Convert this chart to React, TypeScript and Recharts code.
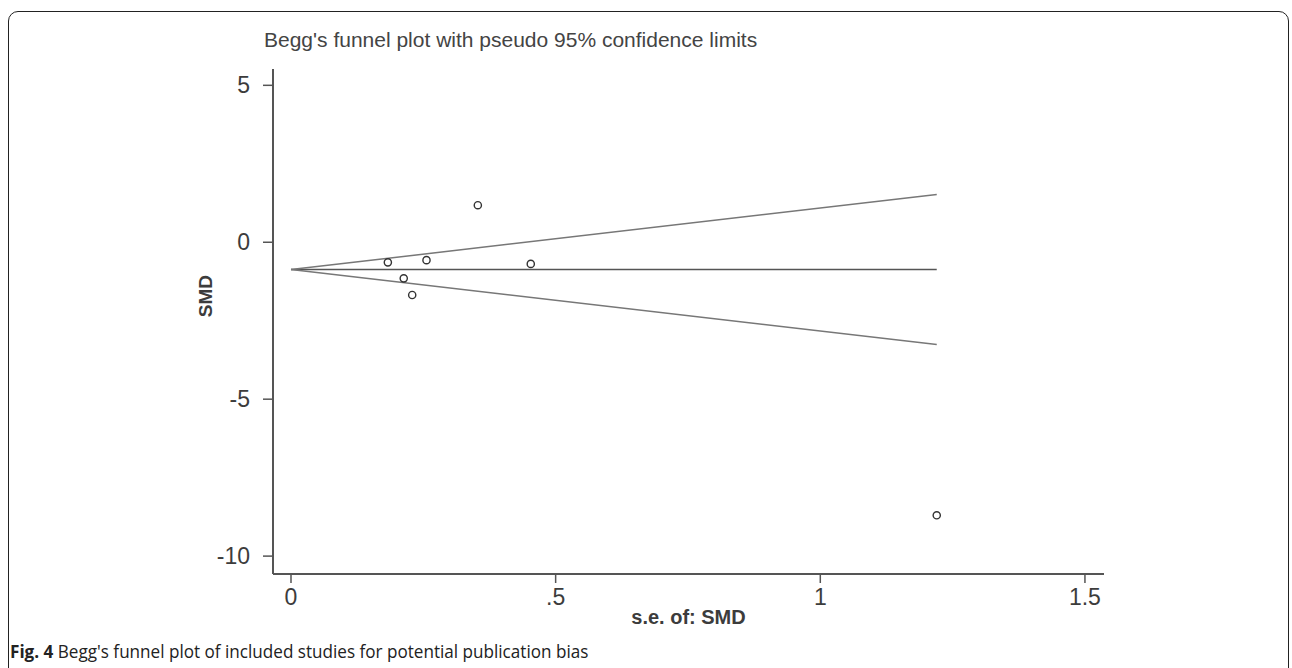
import { ScatterChart, Scatter, XAxis, YAxis } from "recharts";

// study points
const seValues = [0.183, 0.213, 0.229, 0.256, 0.353, 0.453, 1.22];
const smdValues = [-0.64, -1.15, -1.68, -0.57, 1.18, -0.69, -8.7];

// pooled estimate and pseudo 95% limits at se = 0 and at the largest se
const funnelSe = [0, 1.22];
const pooledLine = [-0.87, -0.87];
const upperLimit = [-0.87, 1.52];
const lowerLimit = [-0.87, -3.26];

const xTicks = [0, 0.5, 1, 1.5];
const xTickLabels = ["0", ".5", "1", "1.5"];
const yTicks = [-10, -5, 0, 5];

const studies = seValues.map((se, i) => ({ se, smd: smdValues[i] }));
const toLine = (ys: number[]) => funnelSe.map((se, i) => ({ se, smd: ys[i] }));

const axisColor = "#555";
const textColor = "#3c3c3c";
const font = "'Liberation Sans', Arial, sans-serif";

const HollowDot = (props: any) => (
    <circle cx={props.cx} cy={props.cy} r={3.6} fill="none" stroke="#333" strokeWidth={1.4} />
);
const NoDot = () => <g />;

const XTick = ({ x, y, payload }: any) => (
    <text x={x} y={y + 20} textAnchor="middle" fontSize={23} fontFamily={font} fill={textColor}>
        {xTickLabels[xTicks.indexOf(payload.value)]}
    </text>
);

const YTick = ({ x, y, payload }: any) => (
    <text x={x - 11} y={y + 8} textAnchor="end" fontSize={23} fontFamily={font} fill={textColor}>
        {payload.value}
    </text>
);

const XTitle = ({ viewBox }: any) => (
    <text
        x={viewBox.x + viewBox.width / 2}
        y={624}
        textAnchor="middle"
        fontSize={20}
        fontWeight="bold"
        fontFamily={font}
        fill={textColor}
    >
        s.e. of: SMD
    </text>
);

const YTitle = () => (
    <text
        x={212}
        y={296}
        transform="rotate(-90 212 296)"
        textAnchor="middle"
        fontSize={19}
        fontWeight="bold"
        fontFamily={font}
        fill={textColor}
    >
        SMD
    </text>
);

export default function App() {
    return (
        <div style={{ position: "relative", width: 1292, height: 668, background: "#fff", overflow: "hidden" }}>
            <style>{`body{margin:0}`}</style>
            <div
                style={{
                    position: "absolute",
                    left: 8,
                    top: 11,
                    width: 1279,
                    height: 700,
                    border: "1.5px solid #222",
                    borderRadius: 10,
                }}
            />
            <div
                style={{
                    position: "absolute",
                    left: 264,
                    top: 28,
                    fontFamily: font,
                    fontSize: 21,
                    color: "#444",
                    whiteSpace: "nowrap",
                }}
            >
                Begg's funnel plot with pseudo 95% confidence limits
            </div>
            <div style={{ position: "absolute", left: 0, top: 0 }}>
                <ScatterChart width={1292} height={668} margin={{ top: 69, right: 188, bottom: 34, left: 13 }}>
                    <XAxis
                        type="number"
                        dataKey="se"
                        domain={[-0.034, 1.536]}
                        ticks={xTicks}
                        allowDataOverflow
                        height={60}
                        tickSize={9}
                        tick={<XTick />}
                        axisLine={{ stroke: axisColor, strokeWidth: 2 }}
                        tickLine={{ stroke: axisColor, strokeWidth: 1.5 }}
                        label={{ content: <XTitle /> }}
                    />
                    <YAxis
                        type="number"
                        dataKey="smd"
                        domain={[-10.57, 5.52]}
                        ticks={yTicks}
                        allowDataOverflow
                        width={260}
                        tickSize={10}
                        tick={<YTick />}
                        axisLine={{ stroke: axisColor, strokeWidth: 2 }}
                        tickLine={{ stroke: axisColor, strokeWidth: 1.5 }}
                        label={{ content: <YTitle /> }}
                    />
                    <Scatter data={toLine(pooledLine)} line={{ stroke: "#555", strokeWidth: 1.6 }} shape={<NoDot />} isAnimationActive={false} />
                    <Scatter data={toLine(upperLimit)} line={{ stroke: "#777", strokeWidth: 1.5 }} shape={<NoDot />} isAnimationActive={false} />
                    <Scatter data={toLine(lowerLimit)} line={{ stroke: "#777", strokeWidth: 1.5 }} shape={<NoDot />} isAnimationActive={false} />
                    <Scatter data={studies} shape={<HollowDot />} isAnimationActive={false} />
                </ScatterChart>
            </div>
            <div
                style={{
                    position: "absolute",
                    left: 10,
                    top: 639,
                    fontFamily: "'Open Sans', sans-serif",
                    fontSize: 18,
                    color: "#222",
                    whiteSpace: "nowrap",
                    transform: "scaleX(0.95)",
                    transformOrigin: "left",
                }}
            >
                <b>Fig. 4</b> Begg's funnel plot of included studies for potential publication bias
            </div>
        </div>
    );
}
